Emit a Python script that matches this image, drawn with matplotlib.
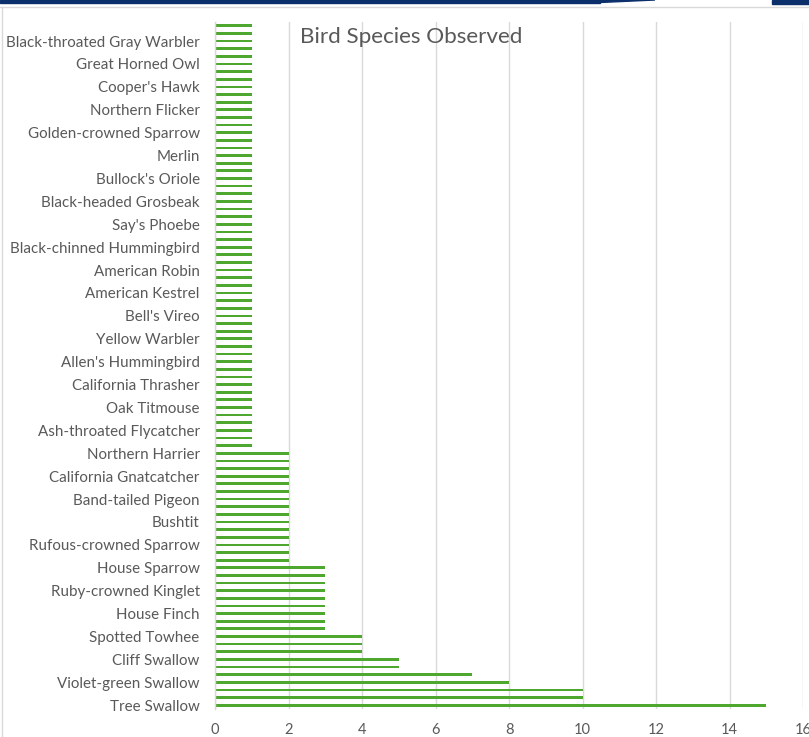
import matplotlib
matplotlib.use("Agg")
import matplotlib.pyplot as plt
from matplotlib.patches import Rectangle, Polygon
import numpy as np

# Visible category labels (bottom to top); Excel shows every third category
tick_labels = [
    "Tree Swallow", "Violet-green Swallow", "Cliff Swallow", "Spotted Towhee",
    "House Finch", "Ruby-crowned Kinglet", "House Sparrow", "Rufous-crowned Sparrow",
    "Bushtit", "Band-tailed Pigeon", "California Gnatcatcher", "Northern Harrier",
    "Ash-throated Flycatcher", "Oak Titmouse", "California Thrasher", "Allen's Hummingbird",
    "Yellow Warbler", "Bell's Vireo", "American Kestrel", "American Robin",
    "Black-chinned Hummingbird", "Say's Phoebe", "Black-headed Grosbeak", "Bullock's Oriole",
    "Merlin", "Golden-crowned Sparrow", "Northern Flicker", "Cooper's Hawk",
    "Great Horned Owl", "Black-throated Gray Warbler",
]

# Counts for all 90 species (bottom to top)
counts = [
    15, 10, 10, 8, 7, 5, 5, 4, 4, 4,
    3, 3, 3, 3, 3, 3, 3, 3, 3,
    2, 2, 2, 2, 2, 2, 2, 2, 2, 2, 2, 2, 2, 2, 2,
    1, 1, 1, 1, 1, 1, 1, 1, 1, 1, 1, 1, 1, 1, 1, 1, 1, 1, 1, 1,
    1, 1, 1, 1, 1, 1, 1, 1, 1, 1, 1, 1, 1, 1, 1, 1, 1, 1, 1, 1,
    1, 1, 1, 1, 1, 1, 1, 1, 1, 1, 1, 1, 1, 1, 1, 1,
]

x_ticks = [0, 2, 4, 6, 8, 10, 12, 14, 16]

W, H = 809, 737
fig = plt.figure(figsize=(W / 100, H / 100), dpi=100)
fig.patch.set_facecolor("white")

left, right, top, bottom = 215, 803, 22, 709
ax = fig.add_axes([left / W, 1 - bottom / H, (right - left) / W, (bottom - top) / H])

pos = np.arange(len(counts))
ax.barh(pos, counts, height=0.36, color="#4EA72E", zorder=3)
ax.set_ylim(-0.5, len(counts) - 0.5)
ax.set_xlim(0, 16)

font = ["Lato", "DejaVu Sans"]
ax.set_yticks(pos[::3][: len(tick_labels)])
ax.set_yticklabels(tick_labels, family=font, fontsize=10.9, color="#595959")
ax.set_xticks(x_ticks)
ax.set_xticklabels([str(t) for t in x_ticks], family=font, fontsize=10.5, color="#595959")
ax.tick_params(axis="both", length=0)
ax.tick_params(axis="y", pad=11)
ax.tick_params(axis="x", pad=10)

ax.grid(axis="x", color="#d9d9d9", linewidth=1, zorder=0)
for s in ["top", "right", "bottom"]:
    ax.spines[s].set_visible(False)
ax.spines["left"].set_color("#d9d9d9")
ax.spines["left"].set_linewidth(1)
ax.spines["left"].set_zorder(4)

fig.text(300 / W, 1 - 37 / H, "Bird Species Observed", family=font,
         fontsize=16.2, color="#595959", ha="left", va="center")

# screenshot frame decorations
fig.patches.append(Rectangle((0, 1 - 2.5 / H), 600 / W, 2.5 / H, transform=fig.transFigure,
                             color="#0b2f6b", zorder=10))
fig.patches.append(Polygon([(600 / W, 1), (655 / W, 1), (600 / W, 1 - 2.5 / H)],
                           closed=True, transform=fig.transFigure, color="#0b2f6b", zorder=10))
fig.patches.append(Rectangle((772 / W, 1 - 3.5 / H), 37 / W, 3.5 / H, transform=fig.transFigure,
                             color="#0b2f6b", zorder=10))
fig.lines.append(plt.Line2D([0, 1], [1 - 7 / H, 1 - 7 / H], transform=fig.transFigure,
                            color="#d9d9d9", linewidth=1))
fig.lines.append(plt.Line2D([2 / W, 2 / W], [0, 1 - 7 / H], transform=fig.transFigure,
                            color="#d9d9d9", linewidth=1))

fig.savefig("out.png", dpi=100, facecolor="white")
